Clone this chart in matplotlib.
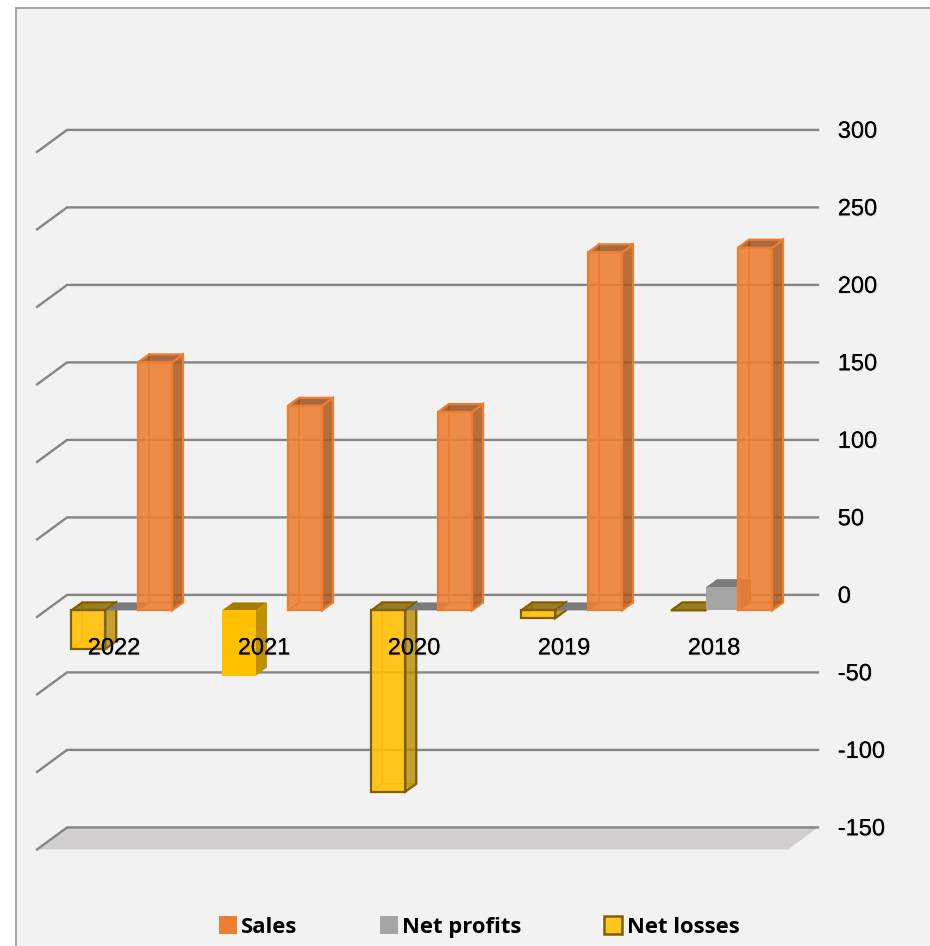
import numpy as np
import matplotlib
matplotlib.use('Agg')
import matplotlib.pyplot as plt
import matplotlib.patheffects as pe
from matplotlib.patches import Patch, Polygon, Rectangle

years = ['2022', '2021', '2020', '2019', '2018']
sales = [160, 132, 128, 231, 234]
net_profits = [0, np.nan, 0, 0, 15]
net_losses = [-25, -42, -117, -5, 0]
y_ticks = [300, 250, 200, 150, 100, 50, 0, -50, -100, -150]

# one category is 150 px wide, one value unit is 1.55 px tall
fig = plt.figure(figsize=(9.30, 9.46), dpi=100, facecolor='white')
ax = fig.add_axes([0, 0, 1, 1])
ax.set_xlim(-0.76, 5.44)
ax.set_ylim(-226.5, 383.8)
ax.axis('off')

GRID = '#858585'
DX = 11 / 150      # bar depth
DY = 5.16
BAR_W = 34 / 150
WALL_L, WALL_R = -0.313, 4.693
SIDE_X, SIDE_Y = 0.2, 14.2   # how far the floor comes forward
shadow = [pe.withSimplePatchShadow(offset=(0.8, -0.8), shadow_rgbFace='#808080', alpha=0.2), pe.Normal()]

# background panel, cut off by the right and bottom edges
ax.add_patch(Rectangle((-0.653, -240), 6.2, 618.5, fc='#f2f2f2', ec='#969696', lw=1.2, zorder=0))

# floor
y_min = min(y_ticks)
ax.add_patch(Polygon([(WALL_L, y_min), (WALL_R, y_min), (WALL_R - SIDE_X, y_min - SIDE_Y),
                      (WALL_L - SIDE_X, y_min - SIDE_Y)], fc='#d0cece', ec='none', zorder=1))

# gridlines on the back wall and the left side, plus value labels
for v in y_ticks:
    ax.plot([WALL_L - SIDE_X, WALL_L, WALL_R], [v - SIDE_Y, v, v], color=GRID, lw=1.7,
            solid_joinstyle='miter', zorder=2)
    ax.text(4.825, v - 1.2, str(v), family='Liberation Sans', fontsize=17, color='black',
            ha='left', va='center', zorder=20, path_effects=shadow)


def draw_bar(x, value, front, side, top, edge, zorder, back_edge=None):
    base = -10   # bars sit 10 units in front of the wall
    hi = base + max(value, 0)
    lo = base + min(value, 0)
    lw = 1.6 if edge != 'none' else 0
    if back_edge is not None:
        # inner edges seen through the translucent front
        ax.plot([x + DX, x + DX], [lo + DY, hi + DY], color=back_edge, lw=1.2, zorder=zorder)
        ax.plot([x, x + DX, x + BAR_W + DX], [lo, lo + DY, lo + DY], color=back_edge, lw=1.2, zorder=zorder)
    if hi > lo:
        ax.add_patch(Polygon([(x + BAR_W, lo), (x + BAR_W + DX, lo + DY), (x + BAR_W + DX, hi + DY),
                              (x + BAR_W, hi)], fc=side, ec=edge, lw=lw, zorder=zorder))
    ax.add_patch(Polygon([(x, hi), (x + DX, hi + DY), (x + BAR_W + DX, hi + DY), (x + BAR_W, hi)],
                         fc=top, ec=edge, lw=lw, zorder=zorder))
    if hi > lo:
        ax.add_patch(Polygon([(x, lo), (x, hi), (x + BAR_W, hi), (x + BAR_W, lo)],
                             fc=front, ec=edge, lw=lw, zorder=zorder))


for i in range(len(years)):
    z = 5 + i
    # net losses
    if i == 1:
        draw_bar(i - 0.28, net_losses[i], '#ffc000', '#bf9000', '#a67c00', 'none', z)
    else:
        draw_bar(i - 0.285, net_losses[i], (1, 0.75, 0, 0.88), (0.72, 0.55, 0, 0.8),
                 (0.55, 0.40, 0, 0.85), '#7f6000', z, back_edge='#e0b020')
    # net profits
    if not np.isnan(net_profits[i]):
        draw_bar(i - 0.053, net_profits[i], '#a5a5a5', '#7c7c7c', '#7a7a7a', 'none', z)
    # sales
    draw_bar(i + 0.16, sales[i], (0.929, 0.49, 0.192, 0.88), (0.68, 0.34, 0.10, 0.85),
             (0.58, 0.28, 0.08, 0.8), '#ed7d31', z, back_edge='#ed7d31')
    ax.text(i, -34.5, years[i], family='Liberation Sans', fontsize=17, color='black',
            ha='center', va='center', zorder=20, path_effects=shadow)

handles = [Patch(fc='#ed7d31', ec='none', label='Sales'),
           Patch(fc='#a5a5a5', ec='none', label='Net profits'),
           Patch(fc='#fcc51f', ec='#7f6000', lw=1.8, label='Net losses')]
ax.legend(handles=handles, ncols=3, loc='center', bbox_to_anchor=(479 / 930, 1 - 927 / 946),
          frameon=False, prop={'family': 'Open Sans', 'weight': 'bold', 'size': 15.8},
          handlelength=0.82, handleheight=0.85, handletextpad=0.2, columnspacing=3.76)

fig.savefig('out.png', dpi=100, facecolor='white')
